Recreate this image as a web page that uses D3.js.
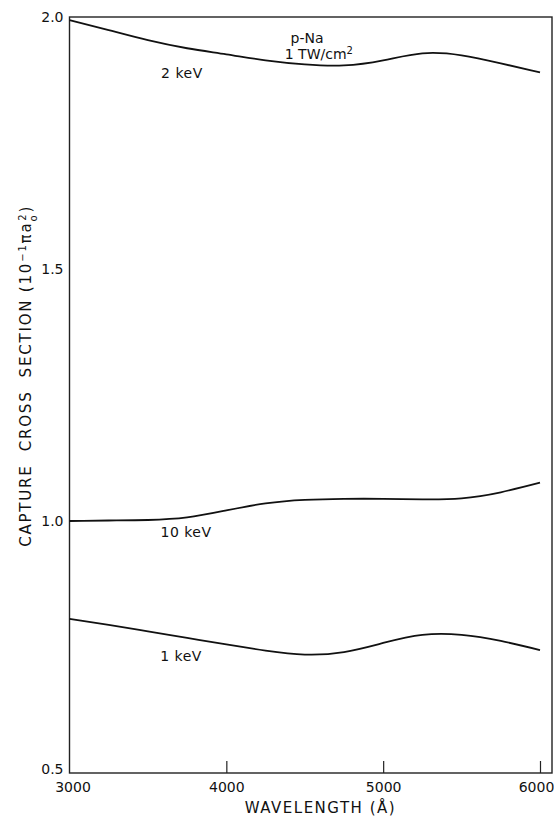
<!DOCTYPE html>
<html>
<head>
<script src="https://d3js.org/d3.v7.min.js"></script>
<style>
  body { margin: 0; background: #fff; }
  text { font-family: "DejaVu Sans", sans-serif; fill: #111; }
</style>
</head>
<body>
<div id="graph"></div>
<script>
// wavelength (Angstrom) sample points
var wavelengths = [3000, 3250, 3500, 3750, 4000, 4250, 4500, 4750, 5000, 5250, 5500, 5750, 6000];

// capture cross section, units of 10^-1 pi a0^2
var keV2  = [1.994, 1.974, 1.954, 1.938, 1.926, 1.914, 1.906, 1.904, 1.914, 1.928, 1.924, 1.908, 1.890];
var keV10 = [1.000, 1.001, 1.002, 1.007, 1.021, 1.035, 1.042, 1.044, 1.044, 1.043, 1.045, 1.057, 1.076];
var keV1  = [0.806, 0.794, 0.781, 0.768, 0.755, 0.743, 0.735, 0.740, 0.758, 0.774, 0.774, 0.762, 0.744];

var xTicks = [3000, 4000, 5000, 6000];
var yTicks = [0.5, 1.0, 1.5, 2.0];

var margin = {top: 17, right: 2, bottom: 45, left: 69.5},
    width = 554 - margin.left - margin.right,
    height = 818 - margin.top - margin.bottom;

var svg = d3.select("#graph")
  .append("svg")
    .attr("width", 554)
    .attr("height", 818)
  .append("g")
    .attr("transform", "translate(" + margin.left + "," + margin.top + ")");

// 6000 sits a bit short of the right frame
var x = d3.scaleLinear()
    .domain([3000, 6000])
    .range([0, width - 12]);

var y = d3.scaleLinear()
    .domain([0.5, 2.0])
    .range([height, 0]);

// frame
svg.append("rect")
    .attr("x", 0).attr("y", 0)
    .attr("width", width).attr("height", height)
    .attr("fill", "none")
    .attr("stroke", "#222")
    .attr("stroke-width", 1.4);

// x axis, ticks point inward
var xAxis = svg.append("g")
    .attr("transform", "translate(0," + height + ")")
    .call(d3.axisBottom(x).tickValues(xTicks).tickSize(-12).tickFormat(d3.format("d")));
xAxis.select(".domain").remove();
xAxis.selectAll("line").attr("stroke", "#222").attr("stroke-width", 1.2)
    .filter(function(d) { return d === 3000; }).remove();
xAxis.selectAll("text")
    .attr("y", 9)
    .attr("dx", function(d) { return d === 3000 ? 3 : (d === 6000 ? -4 : 0); })
    .style("font-size", "14px").style("fill", "#111");

// y axis, labels only
var yAxis = svg.append("g")
    .call(d3.axisLeft(y).tickValues(yTicks).tickSize(0).tickPadding(6).tickFormat(d3.format(".1f")));
yAxis.select(".domain").remove();
yAxis.selectAll("text")
    .attr("dy", function(d) { return d === 0.5 ? "0.0em" : "0.32em"; })
    .style("font-size", "14px").style("fill", "#111");

// axis titles
svg.append("text")
    .attr("x", x(4600))
    .attr("y", height + 40)
    .style("text-anchor", "middle")
    .style("font-size", "15px")
    .style("letter-spacing", "1.5px")
    .text("WAVELENGTH (Å)");

var yl = svg.append("text")
    .attr("transform", "translate(" + (-39) + "," + y(1.288) + ") rotate(-90)")
    .style("text-anchor", "middle")
    .style("font-size", "15px")
    .style("letter-spacing", "1.8px")
    .attr("xml:space", "preserve");
yl.append("tspan").text("CAPTURE  CROSS  SECTION (10");
yl.append("tspan").attr("baseline-shift", "super").style("font-size", "10px").text("−1");
yl.append("tspan").text("πa");
yl.append("tspan").attr("baseline-shift", "sub").style("font-size", "10px").text("o");
yl.append("tspan").attr("dx", -7).attr("baseline-shift", "super").style("font-size", "10px").text("2");
yl.append("tspan").text(")");

// curves
var series = [
  {name: "2 keV", values: keV2, lx: 3717, ly: 1.879},
  {name: "10 keV", values: keV10, lx: 3743, ly: 0.968},
  {name: "1 keV", values: keV1, lx: 3711, ly: 0.722}
];

var line = d3.line()
    .x(function(d, i) { return x(wavelengths[i]); })
    .y(function(d) { return y(d); })
    .curve(d3.curveNatural);

svg.selectAll(".curve")
  .data(series)
  .enter()
  .append("path")
    .attr("class", "curve")
    .attr("d", function(d) { return line(d.values); })
    .attr("fill", "none")
    .attr("stroke", "#111")
    .attr("stroke-width", 1.8);

svg.selectAll(".clabel")
  .data(series)
  .enter()
  .append("text")
    .attr("class", "clabel")
    .attr("x", function(d) { return x(d.lx); })
    .attr("y", function(d) { return y(d.ly); })
    .style("text-anchor", "middle")
    .style("font-size", "14px")
    .style("letter-spacing", "0.5px")
    .text(function(d) { return d.name; });

// case annotation
svg.append("text")
    .attr("x", x(4515))
    .attr("y", y(1.948))
    .style("text-anchor", "middle")
    .style("font-size", "14px")
    .text("p-Na");
var tw = svg.append("text")
    .attr("x", x(4590))
    .attr("y", y(1.916))
    .style("text-anchor", "middle")
    .style("font-size", "14px");
tw.append("tspan").text("1 TW/cm");
tw.append("tspan").attr("baseline-shift", "super").style("font-size", "10px").text("2");
</script>
</body>
</html>
